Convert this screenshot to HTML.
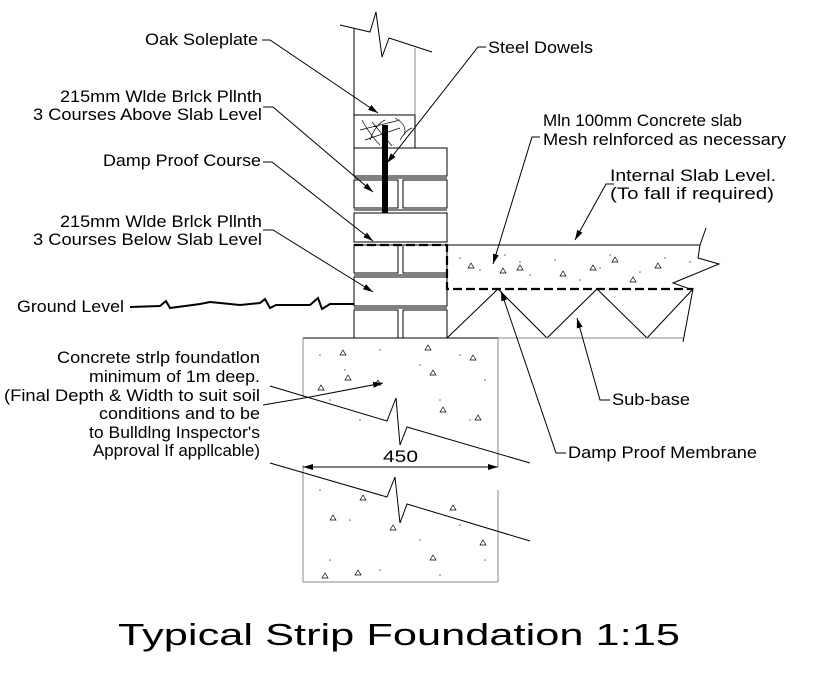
<!DOCTYPE html>
<html><head><meta charset="utf-8"><style>
html,body{margin:0;padding:0;background:#fff;}
svg{display:block;}
text{font-family:"Liberation Sans",Arial,sans-serif;fill:#000;}
</style></head><body>
<svg width="836" height="680" viewBox="0 0 836 680" xmlns="http://www.w3.org/2000/svg">
<defs>
<marker id="ar" markerWidth="10" markerHeight="6" refX="10" refY="3" orient="auto" markerUnits="userSpaceOnUse">
<path d="M0,0 L10,3 L0,6 z" fill="#000"/>
</marker>
</defs>
<g fill="none" stroke="#000" stroke-width="1">
<line x1="354" y1="28" x2="354" y2="148"/>
<line x1="415" y1="48" x2="415" y2="148" stroke="#888"/>
<polyline points="340,25 370,32 376,12 382,57 389,38 432,52"/>
<rect x="354" y="115" width="61" height="33"/>
<path d="M362,120 Q370,135 380,145 M360,130 L400,120 M365,140 L400,128 M372,122 L392,146 M395,118 Q408,125 404,135 M385,120 Q375,125 370,140 M400,140 Q406,130 412,128" stroke-width="0.7"/>
<rect x="354" y="148" width="93" height="28"/>
<line x1="354" y1="178" x2="447" y2="178"/>
<rect x="354" y="180" width="44" height="28"/><rect x="403" y="180" width="44" height="28"/>
<line x1="354" y1="210" x2="447" y2="210"/>
<rect x="354" y="213" width="93" height="29"/>
<rect x="354" y="245" width="44" height="28"/><rect x="403" y="245" width="44" height="28"/>
<line x1="354" y1="275" x2="447" y2="275"/>
<rect x="354" y="277" width="93" height="29"/>
<line x1="354" y1="308" x2="447" y2="308"/>
<rect x="354" y="310" width="44" height="28"/><rect x="403" y="310" width="44" height="28"/>
<polyline points="354,245 447,245 447,289 693,289" stroke-width="2.2" stroke-dasharray="9,4"/>
<line x1="447" y1="245" x2="700" y2="245"/>
<polyline points="706,228 700,245 698,258 719,264 673,283 690,289"/>
<polyline points="447,338 498,289 547,338 597,289 647,338 693,289 683,342"/>
<line x1="498" y1="338" x2="683" y2="338" stroke="#888"/>
<line x1="303" y1="338" x2="498" y2="338"/>
<line x1="303" y1="338" x2="303" y2="397" stroke="#888"/>
<line x1="498" y1="338" x2="498" y2="467" stroke="#888"/>
<line x1="303" y1="465" x2="303" y2="582" stroke="#888"/>
<line x1="498" y1="490" x2="498" y2="582" stroke="#888"/>
<line x1="303" y1="582" x2="498" y2="582" stroke="#888"/>
<polyline points="270,386 387,421 396,398 400,445 407,427 530,463"/>
<polyline points="270,463 387,497 395,477 400,523 407,504 530,541"/>
<line x1="303" y1="467" x2="498" y2="467" marker-end="url(#ar)"/>
<line x1="498" y1="467" x2="303" y2="467" marker-end="url(#ar)"/>
<polyline points="130,307 160,306 166,301 170,308 200,304 210,302 240,305 260,303 265,299 270,308 276,305 310,305 318,298 322,309 330,304 354,304" stroke-width="2"/>
<polyline points="262,40 270,40 378,113" marker-end="url(#ar)"/>
<polyline points="486,47 478,47 387,163" marker-end="url(#ar)"/>
<polyline points="263,107 273,107 373,192" marker-end="url(#ar)"/>
<polyline points="263,162 272,162 373,241" marker-end="url(#ar)"/>
<polyline points="263,230 273,230 373,292" marker-end="url(#ar)"/>
<polyline points="263,405 310,397 383,383" marker-end="url(#ar)"/>
<polyline points="540,137 532,137 493,264" marker-end="url(#ar)"/>
<polyline points="614,184 606,184 575,240" marker-end="url(#ar)"/>
<polyline points="610,400 600,400 577,318" marker-end="url(#ar)"/>
<polyline points="566,453 556,453 501,291" marker-end="url(#ar)"/>
</g>
<rect x="382" y="125" width="6" height="88" fill="#000"/>
<g fill="#666" stroke="none">
<circle cx="460" cy="258" r="0.8"/><circle cx="480" cy="270" r="0.8"/><circle cx="505" cy="255" r="0.8"/><circle cx="530" cy="275" r="0.8"/><circle cx="555" cy="260" r="0.8"/><circle cx="580" cy="280" r="0.8"/><circle cx="610" cy="255" r="0.8"/><circle cx="640" cy="272" r="0.8"/><circle cx="665" cy="258" r="0.8"/><circle cx="690" cy="262" r="0.8"/><circle cx="520" cy="262" r="0.8"/><circle cx="600" cy="268" r="0.8"/>
<circle cx="320" cy="355" r="0.8"/><circle cx="345" cy="370" r="0.8"/><circle cx="380" cy="350" r="0.8"/><circle cx="420" cy="365" r="0.8"/><circle cx="460" cy="355" r="0.8"/><circle cx="485" cy="380" r="0.8"/><circle cx="330" cy="400" r="0.8"/><circle cx="440" cy="400" r="0.8"/><circle cx="470" cy="420" r="0.8"/><circle cx="360" cy="420" r="0.8"/>
<circle cx="320" cy="490" r="0.8"/><circle cx="350" cy="520" r="0.8"/><circle cx="420" cy="540" r="0.8"/><circle cx="460" cy="525" r="0.8"/><circle cx="485" cy="560" r="0.8"/><circle cx="330" cy="560" r="0.8"/><circle cx="380" cy="570" r="0.8"/><circle cx="440" cy="575" r="0.8"/>
</g>
<g fill="none" stroke="#000" stroke-width="0.7">
<path d="M468,268 l3,-5 l3,5z M500,273 l3,-5 l3,5z M517,270 l3,-5 l3,5z M560,276 l3,-5 l3,5z M590,270 l3,-5 l3,5z M630,282 l3,-5 l3,5z M655,268 l3,-5 l3,5z M612,262 l3,-5 l3,5z"/>
<path d="M340,355 l3,-5 l3,5z M425,350 l3,-5 l3,5z M470,360 l3,-5 l3,5z M345,380 l3,-5 l3,5z M375,385 l3,-5 l3,5z M430,375 l3,-5 l3,5z M475,420 l3,-5 l3,5z M440,412 l3,-5 l3,5z M318,390 l3,-5 l3,5z"/>
<path d="M330,520 l3,-5 l3,5z M360,500 l3,-5 l3,5z M390,530 l3,-5 l3,5z M450,510 l3,-5 l3,5z M322,578 l3,-5 l3,5z M355,575 l3,-5 l3,5z M480,545 l3,-5 l3,5z M430,560 l3,-5 l3,5z"/>
</g>
<g font-size="16.5" lengthAdjust="spacingAndGlyphs">
<text x="145" y="45" textLength="113" lengthAdjust="spacingAndGlyphs">Oak Soleplate</text>
<text x="488" y="53" textLength="105" lengthAdjust="spacingAndGlyphs">Steel Dowels</text>
<text x="60" y="102" textLength="202" lengthAdjust="spacingAndGlyphs">215mm Wlde Brlck Pllnth</text>
<text x="33" y="120" textLength="229" lengthAdjust="spacingAndGlyphs">3 Courses Above Slab Level</text>
<text x="103" y="166" textLength="158" lengthAdjust="spacingAndGlyphs">Damp Proof Course</text>
<text x="60" y="227" textLength="202" lengthAdjust="spacingAndGlyphs">215mm Wlde Brlck Pllnth</text>
<text x="33" y="245" textLength="229" lengthAdjust="spacingAndGlyphs">3 Courses Below Slab Level</text>
<text x="17" y="312" textLength="107" lengthAdjust="spacingAndGlyphs">Ground Level</text>
<text x="543" y="126" textLength="199" lengthAdjust="spacingAndGlyphs">Mln 100mm Concrete slab</text>
<text x="543" y="145" textLength="243" lengthAdjust="spacingAndGlyphs">Mesh relnforced as necessary</text>
<text x="610" y="181" textLength="166" lengthAdjust="spacingAndGlyphs">Internal Slab Level.</text>
<text x="610" y="199" textLength="164" lengthAdjust="spacingAndGlyphs">(To fall if required)</text>
<text x="612" y="405" textLength="78" lengthAdjust="spacingAndGlyphs">Sub-base</text>
<text x="568" y="458" textLength="189" lengthAdjust="spacingAndGlyphs">Damp Proof Membrane</text>
<text x="57" y="363" textLength="203" lengthAdjust="spacingAndGlyphs">Concrete strlp foundatlon</text>
<text x="89" y="382" textLength="171" lengthAdjust="spacingAndGlyphs">minimum of 1m deep.</text>
<text x="4" y="401" textLength="256" lengthAdjust="spacingAndGlyphs">(Final Depth &amp; Width to suit soil</text>
<text x="99" y="419" textLength="161" lengthAdjust="spacingAndGlyphs">conditions and to be</text>
<text x="89" y="438" textLength="171" lengthAdjust="spacingAndGlyphs">to Bulldlng Inspector's</text>
<text x="93" y="456" textLength="167" lengthAdjust="spacingAndGlyphs">Approval If appllcable)</text>
<text x="383" y="462" textLength="35" lengthAdjust="spacingAndGlyphs">450</text>
</g>
<text x="118" y="645" font-size="31" textLength="562" lengthAdjust="spacingAndGlyphs">Typical Strip Foundation 1:15</text>
</svg>
</body></html>
